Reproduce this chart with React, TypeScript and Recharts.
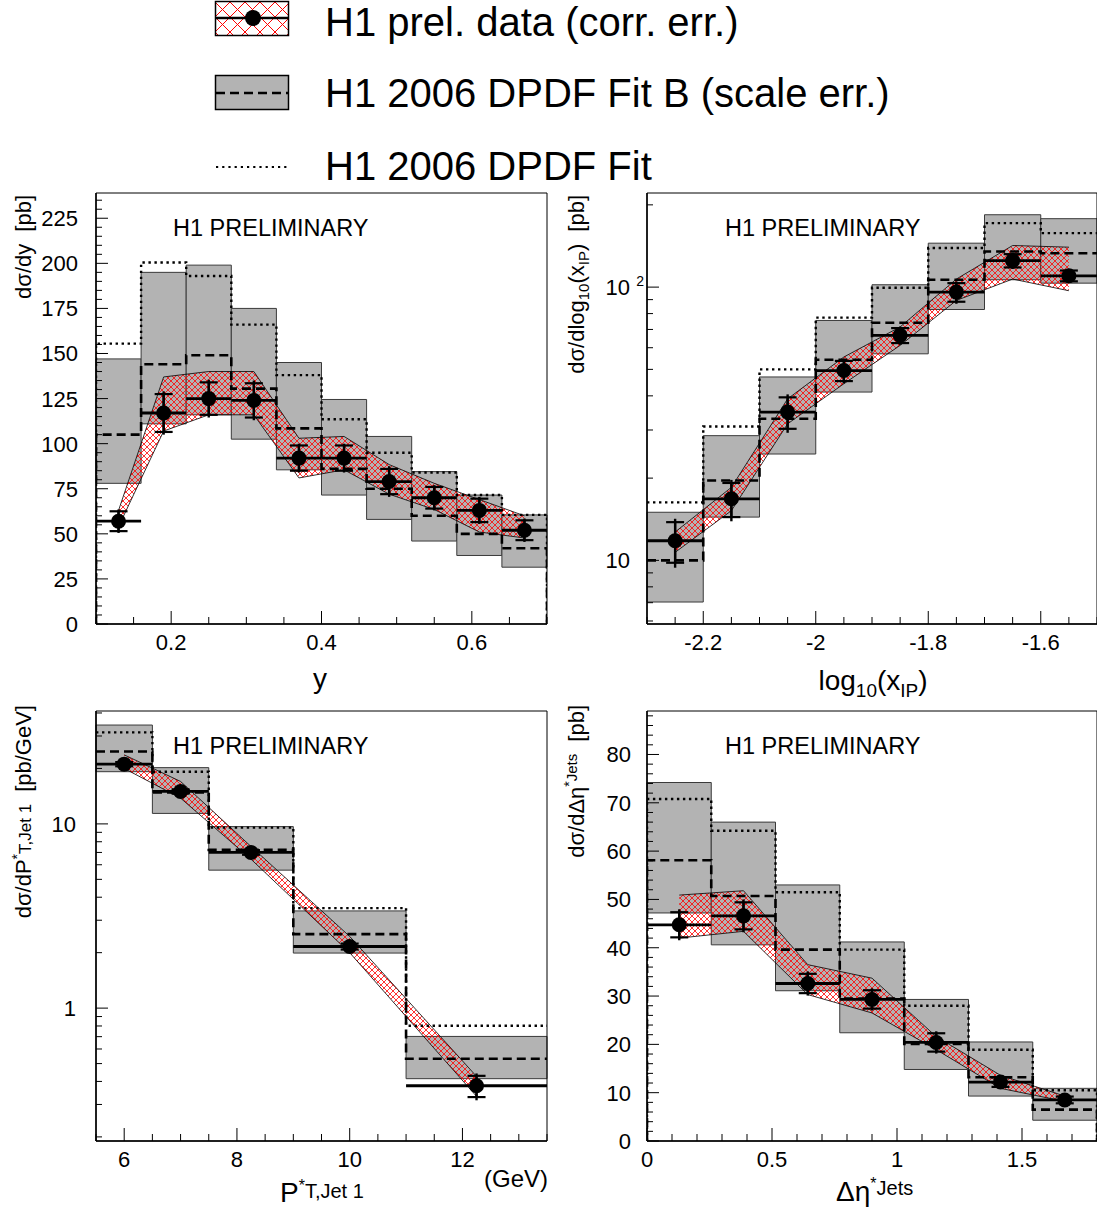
import React from "react";
import { Area, ComposedChart, ErrorBar, Line, ReferenceArea, Scatter, XAxis, YAxis } from "recharts";

const FONT = '"Liberation Sans", Arial, Helvetica, sans-serif';
const GREY = "#b3b3b3";
const HATCH = "#ff0000";

// dσ/dy
const yEdges = [0.1, 0.16, 0.22, 0.28, 0.34, 0.4, 0.46, 0.52, 0.58, 0.64, 0.7];
const yCentres = [0.13, 0.19, 0.25, 0.31, 0.37, 0.43, 0.49, 0.55, 0.61, 0.67];
const yData = [57, 117, 125, 124, 92, 92, 79, 70, 63, 52];
const yTotErr = [6.5, 12, 10.5, 11, 8, 8, 8.5, 7, 7.5, 6.5];
const yStatErr = [5.5, 10.5, 9, 9.5, 7, 7, 7, 6, 6.5, 5.5];
const yCorrLo = [54, 107, 116, 116, 81, 85.5, 72, 63.5, 51, 47.7];
const yCorrHi = [63, 137, 140, 140, 103, 104, 88.4, 78, 69, 60];
const yFitBLo = [78, 111, 116, 102.5, 85.5, 71.5, 58, 46, 38, 31.5];
const yFitBHi = [147, 195, 199, 175, 145, 124.5, 104, 84.5, 71.5, 60.5];
const yFitB = [105, 144, 149, 130.5, 108.5, 86, 75, 60, 50, 42];
const yFit = [155.5, 200.5, 193, 166, 138, 113.5, 95, 84, 71.5, 60.5];

// dσ/dlog10(xIP)
const xpEdges = [-2.3, -2.2, -2.1, -2.0, -1.9, -1.8, -1.7, -1.6, -1.5];
const xpCentres = [-2.25, -2.15, -2.05, -1.95, -1.85, -1.75, -1.65, -1.55];
const xpData = [11.8, 16.8, 34.9, 49.5, 66.6, 95.9, 125, 110];
const xpTotErr = [2.4, 2.9, 5.6, 5.1, 5.1, 9, 8.5, 6];
const xpStatErr = [2, 2.4, 4.6, 4.2, 4.2, 7.5, 7, 5];
const xpCorrLo = [10.7, 15.2, 31.6, 44.3, 61.2, 89.4, 107, 97];
const xpCorrHi = [12.7, 18.5, 39, 55.5, 71.5, 107, 142, 140];
const xpFitBLo = [7.04, 14.4, 24.5, 41.3, 57, 82.8, 106.4, 103.4];
const xpFitBHi = [15, 28.6, 46.9, 75.5, 102, 144.8, 184, 178];
const xpFitB = [10, 19.6, 33, 54.2, 74.1, 106.4, 135, 133];
const xpFit = [16.3, 30.9, 50, 77.3, 99.4, 139, 171.5, 157.6];

// dσ/dP*T,Jet1
const ptEdges = [5.5, 6.5, 7.5, 9, 11, 13.5];
const ptCentres = [6, 7, 8.25, 10, 12.25];
const ptData = [21.1, 15.0, 7.0, 2.16, 0.379];
const ptTotErr = [0.7, 0.5, 0.25, 0.1, 0.063];
const ptStatErr = [0.55, 0.4, 0.2, 0.08, 0.05];
const ptCorrLo = [20.0, 13.8, 6.43, 2.0, 0.332];
const ptCorrHi = [23.7, 17.0, 7.54, 2.45, 0.426];
const ptFitBLo = [19.2, 11.4, 5.61, 1.99, 0.414];
const ptFitBHi = [34.4, 20.2, 9.67, 3.37, 0.702];
const ptFitB = [24.7, 14.8, 7.23, 2.52, 0.531];
const ptFit = [31.4, 19.2, 9.55, 3.49, 0.802];

// dσ/dΔη*Jets
const deEdges = [0, 0.257, 0.514, 0.771, 1.029, 1.286, 1.543, 1.8];
const deCentres = [0.129, 0.386, 0.643, 0.9, 1.157, 1.414, 1.671];
const deData = [44.75, 46.6, 32.6, 29.3, 20.4, 12.2, 8.5];
const deTotErr = [3.2, 3.4, 2.5, 2.3, 2.3, 1.2, 0.9];
const deStatErr = [2.6, 2.8, 2, 1.9, 1.9, 1, 0.7];
const deCorrLo = [42, 43.4, 30.3, 26.5, 18.9, 10.9, 8.2];
const deCorrHi = [50.9, 51.8, 36.5, 33.7, 21.6, 13.6, 9.3];
const deFitBLo = [47.2, 40.6, 31.1, 22.4, 14.8, 9.3, 4.3];
const deFitBHi = [74.2, 66.0, 53.0, 41.2, 29.3, 20.5, 10.9];
const deFitB = [58.1, 50.7, 39.6, 29.5, 20.1, 13.2, 6.5];
const deFit = [70.8, 64.2, 51.5, 39.6, 28.0, 18.9, 10.5];

// axis ticks and labels
const yMajorX = [0.2, 0.4, 0.6];
const yMajorY = [0, 25, 50, 75, 100, 125, 150, 175, 200, 225];
const xpMajorX = [-2.2, -2, -1.8, -1.6];
const xpMinorY = [6, 7, 8, 9, 10, 20, 30, 40, 50, 60, 70, 80, 90, 100, 200];
const xpMajorY = [10, 100];
const ptMajorX = [6, 8, 10, 12];
const ptMinorY = [0.2, 0.3, 0.4, 0.5, 0.6, 0.7, 0.8, 0.9, 1, 2, 3, 4, 5, 6, 7, 8, 9, 10, 20, 30, 40];
const ptMajorY = [1, 10];
const deMajorX = [0, 0.5, 1, 1.5];
const deMajorY = [0, 10, 20, 30, 40, 50, 60, 70, 80];

function steps(a: number, b: number, s: number) {
  const out: number[] = [];
  for (let i = 0; a + i * s <= b + 1e-9; i++) out.push(Math.round((a + i * s) * 1000) / 1000);
  return out;
}

const near = (list: number[], v: number) => list.some((m) => Math.abs(m - v) < 1e-6);
const num = (v: number) => String(Math.round(v * 100) / 100);

type Pt = { x: number; v: number };

// histogram outline: one point per lower edge, closed at the last edge
function histo(edges: number[], vals: number[], floor?: number): Pt[] {
  const n = vals.length;
  const pts: Pt[] = vals.map((v, i) => ({ x: edges[i], v }));
  pts.push({ x: edges[n], v: vals[n - 1] });
  if (floor !== undefined) {
    pts.unshift({ x: edges[0], v: floor });
    pts.push({ x: edges[n], v: floor });
  }
  return pts;
}

function BottomTick(props: any) {
  const { x, y, payload, major, fmt } = props;
  const isMajor = near(major, payload.value);
  return (
    <g>
      <line x1={x} x2={x} y1={y} y2={y - (isMajor ? 13 : 7)} stroke="#000" strokeWidth={1} />
      {isMajor && (
        <text x={x} y={y + 26} textAnchor="middle" fontSize={22} fontFamily={FONT} fill="#000">
          {fmt(payload.value)}
        </text>
      )}
    </g>
  );
}

function LeftTick(props: any) {
  const { x, y, payload, major, render } = props;
  const isMajor = near(major, payload.value);
  return (
    <g>
      <line x1={x} x2={x + (isMajor ? 12 : 6)} y1={y} y2={y} stroke="#000" strokeWidth={1} />
      {isMajor && render(payload.value, x, y)}
    </g>
  );
}

const plainY = (gap: number) => (v: number, ax: number, ay: number) => (
  <text x={ax - gap} y={ay + 8} textAnchor="end" fontSize={22} fontFamily={FONT} fill="#000">
    {num(v)}
  </text>
);

const powerY = (v: number, ax: number, ay: number) =>
  v === 100 ? (
    <g fontFamily={FONT} fill="#000">
      <text x={ax - 17} y={ay + 8} textAnchor="end" fontSize={22}>10</text>
      <text x={ax - 3} y={ay - 1} textAnchor="end" fontSize={14}>2</text>
    </g>
  ) : (
    <text x={ax - 17} y={ay + 8} textAnchor="end" fontSize={22} fontFamily={FONT} fill="#000">
      {num(v)}
    </text>
  );

type PanelProps = {
  pid: string;
  left: number;
  top: number;
  width: number;
  height: number;
  marginTop: number;
  marginRight: number;
  yWidth: number;
  xHeight: number;
  xDomain: [number, number];
  yDomain: [number, number];
  logY?: boolean;
  xTicks: number[];
  xMajor: number[];
  yTicks: number[];
  yMajor: number[];
  yRender: (v: number, ax: number, ay: number) => React.ReactNode;
  edges: number[];
  centres: number[];
  data: number[];
  totErr: number[];
  statErr: number[];
  corrLo: number[];
  corrHi: number[];
  fitBLo: number[];
  fitBHi: number[];
  fitB: number[];
  fit: number[];
  floor?: number;
  children?: React.ReactNode;
};

function Panel(p: PanelProps) {
  const hatchId = `hatch-${p.pid}`;
  const points = p.centres.map((x, i) => ({
    x,
    v: p.data[i],
    xe: [x - p.edges[i], p.edges[i + 1] - x],
    et: p.totErr[i],
    es: p.statErr[i],
  }));
  const band = p.centres.map((x, i) => ({ x, band: [p.corrLo[i], p.corrHi[i]] }));

  return (
    <div style={{ position: "absolute", left: p.left, top: p.top, width: p.width, height: p.height }}>
      <ComposedChart
        width={p.width}
        height={p.height}
        margin={{ top: p.marginTop, right: p.marginRight, bottom: 0, left: 0 }}
      >
        <defs>
          <pattern id={hatchId} width={6} height={6} patternUnits="userSpaceOnUse">
            <path d="M-1,-1 L7,7 M7,-1 L-1,7" stroke={HATCH} strokeWidth={0.8} fill="none" />
          </pattern>
        </defs>
        <XAxis
          type="number"
          dataKey="x"
          domain={p.xDomain}
          allowDataOverflow
          ticks={p.xTicks}
          interval={0}
          tickSize={0}
          tickMargin={0}
          tickLine={false}
          height={p.xHeight}
          axisLine={{ stroke: "#000", strokeWidth: 1.5 }}
          tick={(t: any) => <BottomTick {...t} major={p.xMajor} fmt={num} />}
        />
        <YAxis
          type="number"
          scale={p.logY ? "log" : "linear"}
          domain={p.yDomain}
          allowDataOverflow
          ticks={p.yTicks}
          interval={0}
          tickSize={0}
          tickMargin={0}
          tickLine={false}
          width={p.yWidth}
          axisLine={{ stroke: "#000", strokeWidth: 1.5 }}
          tick={(t: any) => <LeftTick {...t} major={p.yMajor} render={p.yRender} />}
        />
        {p.fitBLo.map((lo, i) => (
          <ReferenceArea
            key={`fb-${i}`}
            x1={p.edges[i]}
            x2={p.edges[i + 1]}
            y1={lo}
            y2={p.fitBHi[i]}
            fill={GREY}
            fillOpacity={1}
            stroke="#3a3a3a"
            strokeWidth={1}
            ifOverflow="visible"
          />
        ))}
        <Area
          data={band}
          dataKey="band"
          type="linear"
          stroke="#000"
          strokeWidth={0.8}
          fill={`url(#${hatchId})`}
          fillOpacity={1}
          dot={false}
          activeDot={false}
          isAnimationActive={false}
        />
        <Line
          data={histo(p.edges, p.fitB, p.floor)}
          dataKey="v"
          type="stepAfter"
          stroke="#000"
          strokeWidth={2.6}
          strokeDasharray="9 5"
          dot={false}
          activeDot={false}
          isAnimationActive={false}
        />
        <Line
          data={histo(p.edges, p.fit, p.floor)}
          dataKey="v"
          type="stepAfter"
          stroke="#000"
          strokeWidth={2.4}
          strokeDasharray="2.4 3.6"
          dot={false}
          activeDot={false}
          isAnimationActive={false}
        />
        <Scatter
          data={points}
          dataKey="v"
          isAnimationActive={false}
          shape={(s: any) => <circle cx={s.cx} cy={s.cy} r={7.5} fill="#000" />}
        >
          <ErrorBar dataKey="xe" direction="x" width={0} stroke="#000" strokeWidth={2.8} />
          <ErrorBar dataKey="et" direction="y" width={0} stroke="#000" strokeWidth={2.4} />
          <ErrorBar dataKey="es" direction="y" width={9} stroke="#000" strokeWidth={2.2} />
        </Scatter>
        <ReferenceArea
          x1={p.xDomain[0]}
          x2={p.xDomain[1]}
          y1={p.yDomain[0]}
          y2={p.yDomain[1]}
          fill="none"
          stroke="#000"
          strokeWidth={1}
          ifOverflow="visible"
        />
      </ComposedChart>
      <svg
        width={p.width}
        height={p.height}
        style={{ position: "absolute", left: 0, top: 0, pointerEvents: "none" }}
        fontFamily={FONT}
        fill="#000"
      >
        {p.children}
      </svg>
    </div>
  );
}

function Preliminary({ x, y }: { x: number; y: number }) {
  return (
    <text x={x} y={y} fontSize={23.5}>
      H1 PRELIMINARY
    </text>
  );
}

function FigureLegend() {
  return (
    <svg
      width={1097}
      height={190}
      style={{ position: "absolute", left: 0, top: 0 }}
      fontFamily={FONT}
      fill="#000"
    >
      <defs>
        <pattern id="hatch-key" width={15} height={15} patternUnits="userSpaceOnUse" x={215} y={2}>
          <path d="M-1,-1 L16,16 M16,-1 L-1,16" stroke={HATCH} strokeWidth={1} fill="none" />
        </pattern>
      </defs>
      <rect x={215.5} y={1.5} width={73} height={34} fill="url(#hatch-key)" stroke="#000" strokeWidth={1.5} />
      <line x1={216} x2={288} y1={18} y2={18} stroke="#000" strokeWidth={2.5} />
      <circle cx={253} cy={18} r={8} fill="#000" />
      <text x={325} y={36} fontSize={40}>H1 prel. data (corr. err.)</text>

      <rect x={215.5} y={75.5} width={73} height={34} fill={GREY} stroke="#000" strokeWidth={1.5} />
      <line x1={216} x2={288} y1={93} y2={93} stroke="#000" strokeWidth={2.5} strokeDasharray="9 5" />
      <text x={325} y={107} fontSize={40}>H1 2006 DPDF Fit B (scale err.)</text>

      <line x1={216} x2={288} y1={167} y2={167} stroke="#000" strokeWidth={2.2} strokeDasharray="2.2 4" />
      <text x={325} y={180} fontSize={40}>H1 2006 DPDF Fit</text>
    </svg>
  );
}

export default function App() {
  return (
    <div
      style={{
        position: "absolute",
        left: 0,
        top: 0,
        width: 1097,
        height: 1214,
        background: "#fff",
        overflow: "hidden",
        fontFamily: FONT,
      }}
    >
      <Panel
        pid="y"
        left={0}
        top={0}
        width={560}
        height={700}
        marginTop={193}
        marginRight={13}
        yWidth={96}
        xHeight={76}
        xDomain={[0.1, 0.7]}
        yDomain={[0, 239]}
        xTicks={steps(0.1, 0.7, 0.05)}
        xMajor={yMajorX}
        yTicks={steps(0, 235, 5)}
        yMajor={yMajorY}
        yRender={plainY(18)}
        edges={yEdges}
        centres={yCentres}
        data={yData}
        totErr={yTotErr}
        statErr={yStatErr}
        corrLo={yCorrLo}
        corrHi={yCorrHi}
        fitBLo={yFitBLo}
        fitBHi={yFitBHi}
        fitB={yFitB}
        fit={yFit}
        floor={0}
      >
        <Preliminary x={173} y={236} />
        <text transform="rotate(-90 31 195)" x={31} y={195} textAnchor="end" fontSize={22}>
          dσ/dy<tspan dx={12}>[pb]</tspan>
        </text>
        <text x={320} y={688} textAnchor="middle" fontSize={28}>y</text>
      </Panel>

      <Panel
        pid="xp"
        left={560}
        top={0}
        width={537}
        height={700}
        marginTop={193}
        marginRight={0}
        yWidth={87}
        xHeight={76}
        xDomain={[-2.3, -1.5]}
        yDomain={[5.85, 221]}
        logY
        xTicks={steps(-2.3, -1.5, 0.05)}
        xMajor={xpMajorX}
        yTicks={xpMinorY}
        yMajor={xpMajorY}
        yRender={powerY}
        edges={xpEdges}
        centres={xpCentres}
        data={xpData}
        totErr={xpTotErr}
        statErr={xpStatErr}
        corrLo={xpCorrLo}
        corrHi={xpCorrHi}
        fitBLo={xpFitBLo}
        fitBHi={xpFitBHi}
        fitB={xpFitB}
        fit={xpFit}
      >
        <Preliminary x={165} y={236} />
        <text transform="rotate(-90 24 195)" x={24} y={195} textAnchor="end" fontSize={22}>
          dσ/dlog<tspan dy={5} fontSize={15}>10</tspan>
          <tspan dy={-5}>(x</tspan>
          <tspan dy={5} fontSize={15}>IP</tspan>
          <tspan dy={-5}>)</tspan>
          <tspan dx={12}>[pb]</tspan>
        </text>
        <text x={313} y={690} textAnchor="middle" fontSize={28}>
          log<tspan dy={7} fontSize={19}>10</tspan>
          <tspan dy={-7}>(x</tspan>
          <tspan dy={7} fontSize={19}>IP</tspan>
          <tspan dy={-7}>)</tspan>
        </text>
      </Panel>

      <Panel
        pid="pt"
        left={0}
        top={700}
        width={560}
        height={514}
        marginTop={11}
        marginRight={13}
        yWidth={96}
        xHeight={73}
        xDomain={[5.5, 13.5]}
        yDomain={[0.19, 41]}
        logY
        xTicks={steps(5.5, 13.5, 0.5)}
        xMajor={ptMajorX}
        yTicks={ptMinorY}
        yMajor={ptMajorY}
        yRender={plainY(20)}
        edges={ptEdges}
        centres={ptCentres}
        data={ptData}
        totErr={ptTotErr}
        statErr={ptStatErr}
        corrLo={ptCorrLo}
        corrHi={ptCorrHi}
        fitBLo={ptFitBLo}
        fitBHi={ptFitBHi}
        fitB={ptFitB}
        fit={ptFit}
      >
        <Preliminary x={173} y={54} />
        <text transform="rotate(-90 31 5)" x={31} y={5} textAnchor="end" fontSize={22}>
          dσ/dP<tspan dy={-9} fontSize={14}>*</tspan>
          <tspan dy={9} fontSize={17}>T,Jet 1</tspan>
          <tspan dx={12} fontSize={22}>[pb/GeV]</tspan>
        </text>
        <text x={280} y={502} fontSize={28}>
          P<tspan dy={-11} fontSize={16}>*</tspan>
          <tspan dy={7} fontSize={20}>T,Jet 1</tspan>
        </text>
        <text x={484} y={487} fontSize={24}>(GeV)</text>
      </Panel>

      <Panel
        pid="de"
        left={560}
        top={700}
        width={537}
        height={514}
        marginTop={11}
        marginRight={0}
        yWidth={87}
        xHeight={73}
        xDomain={[0, 1.8]}
        yDomain={[0, 89]}
        xTicks={steps(0, 1.8, 0.1)}
        xMajor={deMajorX}
        yTicks={steps(0, 88, 2)}
        yMajor={deMajorY}
        yRender={plainY(16)}
        edges={deEdges}
        centres={deCentres}
        data={deData}
        totErr={deTotErr}
        statErr={deStatErr}
        corrLo={deCorrLo}
        corrHi={deCorrHi}
        fitBLo={deFitBLo}
        fitBHi={deFitBHi}
        fitB={deFitB}
        fit={deFit}
        floor={0}
      >
        <Preliminary x={165} y={54} />
        <text transform="rotate(-90 24 5)" x={24} y={5} textAnchor="end" fontSize={22}>
          dσ/dΔη<tspan dy={-10} fontSize={14}>*</tspan>
          <tspan dy={3} fontSize={15}>Jets</tspan>
          <tspan dy={7} dx={12} fontSize={22}>[pb]</tspan>
        </text>
        <text x={276} y={501} fontSize={28}>
          Δη<tspan dy={-12} fontSize={16}>*</tspan>
          <tspan dy={6} fontSize={20}>Jets</tspan>
        </text>
      </Panel>

      <FigureLegend />
    </div>
  );
}
